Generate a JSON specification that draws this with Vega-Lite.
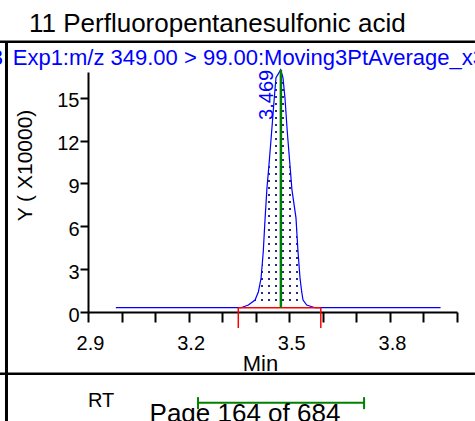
{
  "$schema": "https://vega.github.io/schema/vega-lite/v6.json",
  "width": 369,
  "height": 240,
  "autosize": {"type": "none"},
  "padding": {"left": 88, "top": 72, "right": 18, "bottom": 109},
  "background": "white",
  "config": {
    "view": {"stroke": null},
    "font": "Liberation Sans",
    "axis": {
      "grid": false,
      "domainColor": "black",
      "domainWidth": 2,
      "tickColor": "black",
      "tickWidth": 2,
      "labelColor": "black",
      "labelFont": "Liberation Sans",
      "labelFontSize": 20,
      "titleFont": "Liberation Sans",
      "titleColor": "black",
      "titleFontWeight": "normal",
      "labelFlush": false,
      "labelOverlap": false
    }
  },
  "title": {
    "text": "11 Perfluoropentanesulfonic acid",
    "anchor": "start",
    "frame": "group",
    "dx": -59,
    "dy": 28,
    "fontSize": 26,
    "fontWeight": "normal",
    "color": "black",
    "font": "Liberation Sans",
    "baseline": "alphabetic",
    "offset": 10
  },
  "datasets": {
    "trace": [
      {"t": 2.983, "y": 0.3},
      {"t": 3.2, "y": 0.3},
      {"t": 3.348, "y": 0.3},
      {"t": 3.356, "y": 0.3},
      {"t": 3.378, "y": 0.49},
      {"t": 3.398, "y": 0.84},
      {"t": 3.408, "y": 1.42},
      {"t": 3.416, "y": 2.38},
      {"t": 3.4225, "y": 4.23},
      {"t": 3.428, "y": 6.59},
      {"t": 3.4335, "y": 8.69},
      {"t": 3.4395, "y": 10.3},
      {"t": 3.4475, "y": 12.64},
      {"t": 3.4553, "y": 14.98},
      {"t": 3.4604, "y": 16.4},
      {"t": 3.4744, "y": 16.95},
      {"t": 3.4812, "y": 16.4},
      {"t": 3.4872, "y": 14.98},
      {"t": 3.494, "y": 12.64},
      {"t": 3.502, "y": 10.3},
      {"t": 3.508, "y": 8.55},
      {"t": 3.52, "y": 6.59},
      {"t": 3.526, "y": 4.23},
      {"t": 3.532, "y": 2.38},
      {"t": 3.537, "y": 1.42},
      {"t": 3.541, "y": 0.84},
      {"t": 3.552, "y": 0.49},
      {"t": 3.577, "y": 0.3},
      {"t": 3.594, "y": 0.3},
      {"t": 3.951, "y": 0.3}
    ],
    "peak": [
      {"rt": 3.475, "label": "3.469", "apex": 16.95, "start": 3.348, "end": 3.594, "base": 0.3, "win_lo": 3.228, "win_hi": 3.723}
    ]
  },
  "encoding": {
    "x": {"type": "quantitative", "scale": {"domain": [2.9, 4.0], "nice": false, "zero": false},
      "axis": {
        "values": [2.9, 3.0, 3.1, 3.2, 3.3, 3.4, 3.5, 3.6, 3.7, 3.8, 3.9, 4.0],
        "labelExpr": "indexof(['2.9','3.2','3.5','3.8'], format(datum.value, '.1f')) >= 0 ? format(datum.value, '.1f') : ''",
        "labelOverlap": false,
        "title": "Min",
        "titleFontSize": 22,
        "titleX": 172,
        "titleY": 58,
        "titleBaseline": "alphabetic",
        "tickSize": 10,
        "labelPadding": 11,
        "labelOffset": 2
      }},
    "y": {"type": "quantitative", "scale": {"domain": [0, 16.8], "nice": false, "zero": false},
      "axis": {
        "values": [0, 3, 6, 9, 12, 15],
        "labelOverlap": false,
        "title": "Y ( X10000)",
        "titleFontSize": 21,
        "titleX": -63,
        "titleY": 93,
        "titleBaseline": "middle",
        "tickSize": 8,
        "labelPadding": 1,
        "labelOffset": 3
      }}
  },
  "layer": [
    {
      "data": {"name": "trace"},
      "transform": [{"filter": "datum.t >= 3.348 && datum.t <= 3.594"}],
      "mark": {"type": "area", "interpolate": "linear", "fillOpacity": 1,
        "fill": {"gradient": "linear", "x1": 0, "y1": 0, "x2": 0, "y2": 1, "stops": [
          {"offset": 0, "color": "#ffffff"},
          {"offset": 0.0200, "color": "#ffffff"}, {"offset": 0.0200, "color": "#2a2a8a"}, {"offset": 0.0284, "color": "#2a2a8a"}, {"offset": 0.0284, "color": "#ffffff"},
          {"offset": 0.04945, "color": "#ffffff"}, {"offset": 0.04945, "color": "#2a2a8a"}, {"offset": 0.05785, "color": "#2a2a8a"}, {"offset": 0.05785, "color": "#ffffff"},
          {"offset": 0.0789, "color": "#ffffff"}, {"offset": 0.0789, "color": "#2a2a8a"}, {"offset": 0.0873, "color": "#2a2a8a"}, {"offset": 0.0873, "color": "#ffffff"},
          {"offset": 0.10835, "color": "#ffffff"}, {"offset": 0.10835, "color": "#2a2a8a"}, {"offset": 0.11675, "color": "#2a2a8a"}, {"offset": 0.11675, "color": "#ffffff"},
          {"offset": 0.1378, "color": "#ffffff"}, {"offset": 0.1378, "color": "#2a2a8a"}, {"offset": 0.1462, "color": "#2a2a8a"}, {"offset": 0.1462, "color": "#ffffff"},
          {"offset": 0.16725, "color": "#ffffff"}, {"offset": 0.16725, "color": "#2a2a8a"}, {"offset": 0.17565, "color": "#2a2a8a"}, {"offset": 0.17565, "color": "#ffffff"},
          {"offset": 0.1967, "color": "#ffffff"}, {"offset": 0.1967, "color": "#2a2a8a"}, {"offset": 0.2051, "color": "#2a2a8a"}, {"offset": 0.2051, "color": "#ffffff"},
          {"offset": 0.22615, "color": "#ffffff"}, {"offset": 0.22615, "color": "#2a2a8a"}, {"offset": 0.23455, "color": "#2a2a8a"}, {"offset": 0.23455, "color": "#ffffff"},
          {"offset": 0.2556, "color": "#ffffff"}, {"offset": 0.2556, "color": "#2a2a8a"}, {"offset": 0.264, "color": "#2a2a8a"}, {"offset": 0.264, "color": "#ffffff"},
          {"offset": 0.28505, "color": "#ffffff"}, {"offset": 0.28505, "color": "#2a2a8a"}, {"offset": 0.29345, "color": "#2a2a8a"}, {"offset": 0.29345, "color": "#ffffff"},
          {"offset": 0.3145, "color": "#ffffff"}, {"offset": 0.3145, "color": "#2a2a8a"}, {"offset": 0.3229, "color": "#2a2a8a"}, {"offset": 0.3229, "color": "#ffffff"},
          {"offset": 0.34395, "color": "#ffffff"}, {"offset": 0.34395, "color": "#2a2a8a"}, {"offset": 0.35235, "color": "#2a2a8a"}, {"offset": 0.35235, "color": "#ffffff"},
          {"offset": 0.3734, "color": "#ffffff"}, {"offset": 0.3734, "color": "#2a2a8a"}, {"offset": 0.3818, "color": "#2a2a8a"}, {"offset": 0.3818, "color": "#ffffff"},
          {"offset": 0.40285, "color": "#ffffff"}, {"offset": 0.40285, "color": "#2a2a8a"}, {"offset": 0.41125, "color": "#2a2a8a"}, {"offset": 0.41125, "color": "#ffffff"},
          {"offset": 0.4323, "color": "#ffffff"}, {"offset": 0.4323, "color": "#2a2a8a"}, {"offset": 0.4407, "color": "#2a2a8a"}, {"offset": 0.4407, "color": "#ffffff"},
          {"offset": 0.46175, "color": "#ffffff"}, {"offset": 0.46175, "color": "#2a2a8a"}, {"offset": 0.47015, "color": "#2a2a8a"}, {"offset": 0.47015, "color": "#ffffff"},
          {"offset": 0.4912, "color": "#ffffff"}, {"offset": 0.4912, "color": "#2a2a8a"}, {"offset": 0.4996, "color": "#2a2a8a"}, {"offset": 0.4996, "color": "#ffffff"},
          {"offset": 0.52065, "color": "#ffffff"}, {"offset": 0.52065, "color": "#2a2a8a"}, {"offset": 0.52905, "color": "#2a2a8a"}, {"offset": 0.52905, "color": "#ffffff"},
          {"offset": 0.5501, "color": "#ffffff"}, {"offset": 0.5501, "color": "#2a2a8a"}, {"offset": 0.5585, "color": "#2a2a8a"}, {"offset": 0.5585, "color": "#ffffff"},
          {"offset": 0.57955, "color": "#ffffff"}, {"offset": 0.57955, "color": "#2a2a8a"}, {"offset": 0.58795, "color": "#2a2a8a"}, {"offset": 0.58795, "color": "#ffffff"},
          {"offset": 0.609, "color": "#ffffff"}, {"offset": 0.609, "color": "#2a2a8a"}, {"offset": 0.6174, "color": "#2a2a8a"}, {"offset": 0.6174, "color": "#ffffff"},
          {"offset": 0.63845, "color": "#ffffff"}, {"offset": 0.63845, "color": "#2a2a8a"}, {"offset": 0.64685, "color": "#2a2a8a"}, {"offset": 0.64685, "color": "#ffffff"},
          {"offset": 0.6679, "color": "#ffffff"}, {"offset": 0.6679, "color": "#2a2a8a"}, {"offset": 0.6763, "color": "#2a2a8a"}, {"offset": 0.6763, "color": "#ffffff"},
          {"offset": 0.69735, "color": "#ffffff"}, {"offset": 0.69735, "color": "#2a2a8a"}, {"offset": 0.70575, "color": "#2a2a8a"}, {"offset": 0.70575, "color": "#ffffff"},
          {"offset": 0.7268, "color": "#ffffff"}, {"offset": 0.7268, "color": "#2a2a8a"}, {"offset": 0.7352, "color": "#2a2a8a"}, {"offset": 0.7352, "color": "#ffffff"},
          {"offset": 0.75625, "color": "#ffffff"}, {"offset": 0.75625, "color": "#2a2a8a"}, {"offset": 0.76465, "color": "#2a2a8a"}, {"offset": 0.76465, "color": "#ffffff"},
          {"offset": 0.7857, "color": "#ffffff"}, {"offset": 0.7857, "color": "#2a2a8a"}, {"offset": 0.7941, "color": "#2a2a8a"}, {"offset": 0.7941, "color": "#ffffff"},
          {"offset": 0.81515, "color": "#ffffff"}, {"offset": 0.81515, "color": "#2a2a8a"}, {"offset": 0.82355, "color": "#2a2a8a"}, {"offset": 0.82355, "color": "#ffffff"},
          {"offset": 0.8446, "color": "#ffffff"}, {"offset": 0.8446, "color": "#2a2a8a"}, {"offset": 0.853, "color": "#2a2a8a"}, {"offset": 0.853, "color": "#ffffff"},
          {"offset": 0.87405, "color": "#ffffff"}, {"offset": 0.87405, "color": "#2a2a8a"}, {"offset": 0.88245, "color": "#2a2a8a"}, {"offset": 0.88245, "color": "#ffffff"},
          {"offset": 0.9035, "color": "#ffffff"}, {"offset": 0.9035, "color": "#2a2a8a"}, {"offset": 0.9119, "color": "#2a2a8a"}, {"offset": 0.9119, "color": "#ffffff"},
          {"offset": 0.93295, "color": "#ffffff"}, {"offset": 0.93295, "color": "#2a2a8a"}, {"offset": 0.94135, "color": "#2a2a8a"}, {"offset": 0.94135, "color": "#ffffff"},
          {"offset": 0.9624, "color": "#ffffff"}, {"offset": 0.9624, "color": "#2a2a8a"}, {"offset": 0.9708, "color": "#2a2a8a"}, {"offset": 0.9708, "color": "#ffffff"},
          {"offset": 1, "color": "#ffffff"}
        ]}},
      "encoding": {
        "x": {"field": "t"},
        "y": {"field": "y"},
        "y2": {"datum": 0.3}
      }
    },
    {
      "data": {"name": "trace"},
      "transform": [{"filter": "datum.t >= 3.348 && datum.t <= 3.594"}],
      "mark": {"type": "area", "interpolate": "linear", "fillOpacity": 1,
        "fill": {"gradient": "linear", "x1": 0, "y1": 0, "x2": 1, "y2": 0, "stops": [
          {"offset": 0, "color": "rgba(255,255,255,1)"},
          {"offset": 0.0200, "color": "rgba(255,255,255,1)"}, {"offset": 0.0200, "color": "rgba(255,255,255,0)"}, {"offset": 0.0442, "color": "rgba(255,255,255,0)"}, {"offset": 0.0442, "color": "rgba(255,255,255,1)"},
          {"offset": 0.10485, "color": "rgba(255,255,255,1)"}, {"offset": 0.10485, "color": "rgba(255,255,255,0)"}, {"offset": 0.12905, "color": "rgba(255,255,255,0)"}, {"offset": 0.12905, "color": "rgba(255,255,255,1)"},
          {"offset": 0.1897, "color": "rgba(255,255,255,1)"}, {"offset": 0.1897, "color": "rgba(255,255,255,0)"}, {"offset": 0.2139, "color": "rgba(255,255,255,0)"}, {"offset": 0.2139, "color": "rgba(255,255,255,1)"},
          {"offset": 0.27455, "color": "rgba(255,255,255,1)"}, {"offset": 0.27455, "color": "rgba(255,255,255,0)"}, {"offset": 0.29875, "color": "rgba(255,255,255,0)"}, {"offset": 0.29875, "color": "rgba(255,255,255,1)"},
          {"offset": 0.3594, "color": "rgba(255,255,255,1)"}, {"offset": 0.3594, "color": "rgba(255,255,255,0)"}, {"offset": 0.3836, "color": "rgba(255,255,255,0)"}, {"offset": 0.3836, "color": "rgba(255,255,255,1)"},
          {"offset": 0.44425, "color": "rgba(255,255,255,1)"}, {"offset": 0.44425, "color": "rgba(255,255,255,0)"}, {"offset": 0.46845, "color": "rgba(255,255,255,0)"}, {"offset": 0.46845, "color": "rgba(255,255,255,1)"},
          {"offset": 0.5291, "color": "rgba(255,255,255,1)"}, {"offset": 0.5291, "color": "rgba(255,255,255,0)"}, {"offset": 0.5533, "color": "rgba(255,255,255,0)"}, {"offset": 0.5533, "color": "rgba(255,255,255,1)"},
          {"offset": 0.61395, "color": "rgba(255,255,255,1)"}, {"offset": 0.61395, "color": "rgba(255,255,255,0)"}, {"offset": 0.63815, "color": "rgba(255,255,255,0)"}, {"offset": 0.63815, "color": "rgba(255,255,255,1)"},
          {"offset": 0.6988, "color": "rgba(255,255,255,1)"}, {"offset": 0.6988, "color": "rgba(255,255,255,0)"}, {"offset": 0.723, "color": "rgba(255,255,255,0)"}, {"offset": 0.723, "color": "rgba(255,255,255,1)"},
          {"offset": 0.78365, "color": "rgba(255,255,255,1)"}, {"offset": 0.78365, "color": "rgba(255,255,255,0)"}, {"offset": 0.80785, "color": "rgba(255,255,255,0)"}, {"offset": 0.80785, "color": "rgba(255,255,255,1)"},
          {"offset": 0.8685, "color": "rgba(255,255,255,1)"}, {"offset": 0.8685, "color": "rgba(255,255,255,0)"}, {"offset": 0.8927, "color": "rgba(255,255,255,0)"}, {"offset": 0.8927, "color": "rgba(255,255,255,1)"},
          {"offset": 0.95335, "color": "rgba(255,255,255,1)"}, {"offset": 0.95335, "color": "rgba(255,255,255,0)"}, {"offset": 0.97755, "color": "rgba(255,255,255,0)"}, {"offset": 0.97755, "color": "rgba(255,255,255,1)"},
          {"offset": 1, "color": "rgba(255,255,255,1)"}
        ]}},
      "encoding": {
        "x": {"field": "t"},
        "y": {"field": "y"},
        "y2": {"datum": 0.3}
      }
    },
    {
      "data": {"name": "trace"},
      "mark": {"type": "line", "color": "#0000ff", "strokeWidth": 1.2, "interpolate": "linear"},
      "encoding": {
        "x": {"field": "t"},
        "y": {"field": "y"}
      }
    },
    {
      "data": {"name": "peak"},
      "mark": {"type": "rule", "color": "#ff0000", "strokeWidth": 1.5},
      "encoding": {
        "x": {"field": "start"},
        "x2": {"field": "end"},
        "y": {"field": "base"}
      }
    },
    {
      "data": {"name": "peak"},
      "mark": {"type": "rule", "color": "#ff0000", "strokeWidth": 1.5},
      "encoding": {
        "x": {"field": "start"},
        "y": {"field": "base"},
        "y2": {"datum": -1.12}
      }
    },
    {
      "data": {"name": "peak"},
      "mark": {"type": "rule", "color": "#ff0000", "strokeWidth": 1.5},
      "encoding": {
        "x": {"field": "end"},
        "y": {"field": "base"},
        "y2": {"datum": -1.12}
      }
    },
    {
      "data": {"name": "peak"},
      "mark": {"type": "rule", "color": "#008000", "strokeWidth": 2.5},
      "encoding": {
        "x": {"field": "rt"},
        "y": {"field": "base"},
        "y2": {"field": "apex"}
      }
    },
    {
      "data": {"name": "peak"},
      "mark": {"type": "text", "angle": 270, "align": "right", "baseline": "alphabetic", "fontSize": 20, "color": "#0000ff", "dy": -8},
      "encoding": {
        "x": {"field": "rt"},
        "y": {"field": "apex"},
        "text": {"field": "label"}
      }
    },
    {
      "data": {"name": "peak"},
      "mark": {"type": "rule", "color": "#008000", "strokeWidth": 2},
      "encoding": {
        "x": {"field": "win_lo"},
        "x2": {"field": "win_hi"},
        "y": {"datum": -6.36}
      }
    },
    {
      "data": {"name": "peak"},
      "mark": {"type": "rule", "color": "#008000", "strokeWidth": 2},
      "encoding": {
        "x": {"field": "win_lo"},
        "y": {"datum": -5.96},
        "y2": {"datum": -6.8}
      }
    },
    {
      "data": {"name": "peak"},
      "mark": {"type": "rule", "color": "#008000", "strokeWidth": 2},
      "encoding": {
        "x": {"field": "win_hi"},
        "y": {"datum": -5.96},
        "y2": {"datum": -6.8}
      }
    },
    {
      "data": {"values": [{"label": "Exp1:m/z 349.00 > 99.00:Moving3PtAverage_x3"}]},
      "mark": {"type": "text", "align": "left", "baseline": "alphabetic", "fontSize": 22, "color": "#0000ff"},
      "encoding": {
        "x": {"datum": 2.6756},
        "y": {"datum": 17.31},
        "text": {"field": "label"}
      }
    },
    {
      "data": {"values": [{"label": "_x3"}]},
      "mark": {"type": "text", "align": "right", "baseline": "alphabetic", "fontSize": 22, "color": "#0000ff"},
      "encoding": {
        "x": {"datum": 2.6467},
        "y": {"datum": 17.31},
        "text": {"field": "label"}
      }
    },
    {
      "data": {"values": [{"label": "RT"}]},
      "mark": {"type": "text", "align": "left", "baseline": "alphabetic", "fontSize": 20, "color": "black"},
      "encoding": {
        "x": {"datum": 2.9},
        "y": {"datum": -6.66},
        "text": {"field": "label"}
      }
    },
    {
      "data": {"values": [{"label": "Page 164 of 684"}]},
      "mark": {"type": "text", "align": "center", "baseline": "alphabetic", "fontSize": 26, "color": "black"},
      "encoding": {
        "x": {"datum": 3.368},
        "y": {"datum": -7.71},
        "text": {"field": "label"}
      }
    },
    {
      "data": {"values": [{}]},
      "mark": {"type": "rule", "color": "black", "strokeWidth": 2.5},
      "encoding": {
        "x": {"datum": 2.6377},
        "x2": {"datum": 4.0535},
        "y": {"datum": 18.92}
      }
    },
    {
      "data": {"values": [{}]},
      "mark": {"type": "rule", "color": "black", "strokeWidth": 2.5},
      "encoding": {
        "x": {"datum": 2.6377},
        "x2": {"datum": 4.0535},
        "y": {"datum": -4.32}
      }
    },
    {
      "data": {"values": [{}]},
      "mark": {"type": "rule", "color": "black", "strokeWidth": 3},
      "encoding": {
        "x": {"datum": 2.657},
        "y": {"datum": 18.92},
        "y2": {"datum": -7.64}
      }
    }
  ]
}
